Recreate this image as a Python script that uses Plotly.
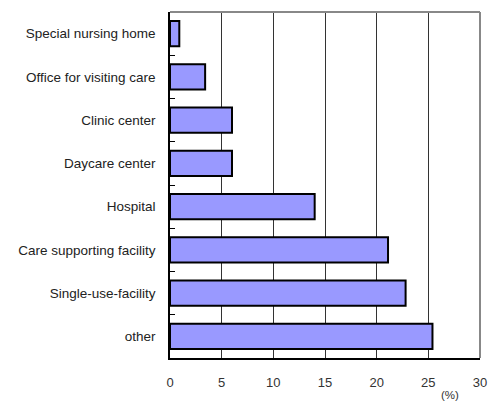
import plotly.graph_objects as go

categories = ["Special nursing home", "Office for visiting care", "Clinic center",
              "Daycare center", "Hospital", "Care supporting facility",
              "Single-use-facility", "other"]
values = [0.9, 3.4, 6.0, 6.0, 14.0, 21.1, 22.8, 25.4]
x_ticks = [0, 5, 10, 15, 20, 25, 30]

FONT = "Liberation Sans"

fig = go.Figure(go.Bar(
    y=categories, x=values, orientation="h",
    marker=dict(color="#9999FF", line=dict(color="black", width=2)),
    width=0.58,
))

# page body has an 8px default margin; figure size compensates
fig.update_layout(
    width=488, height=397,
    margin=dict(l=162, r=16, t=4, b=47),
    plot_bgcolor="white", paper_bgcolor="white",
    showlegend=False,
    font=dict(family=FONT, size=13, color="#222222"),
    xaxis=dict(range=[0, 30], tickvals=x_ticks, showgrid=True,
               gridcolor="#333333", gridwidth=1, zeroline=False,
               showline=True, linecolor="black", linewidth=1.5,
               ticks="", ticklabelstandoff=12, automargin=False,
               tickfont=dict(size=13, family=FONT, color="#333333")),
    yaxis=dict(autorange="reversed", showgrid=False, zeroline=False,
               showline=True, linecolor="black", linewidth=1.5,
               ticks="inside", ticklen=5, tickcolor="black",
               tickson="boundaries", ticklabelstandoff=10, automargin=False,
               tickfont=dict(size=13.5, family=FONT, color="#222222")),
    shapes=[
        dict(type="line", xref="paper", yref="paper",
             x0=0, x1=1, y0=1, y1=1,
             line=dict(color="#888888", width=2), layer="above"),
        dict(type="line", xref="paper", yref="paper",
             x0=1, x1=1, y0=0, y1=1,
             line=dict(color="#888888", width=2), layer="above"),
    ],
    annotations=[dict(text="(%)", xref="paper", yref="paper",
                      x=0.94, y=-0.108, showarrow=False, yanchor="middle",
                      font=dict(size=11.5, family=FONT, color="#333333"))],
)

fig.write_html("out.html")
